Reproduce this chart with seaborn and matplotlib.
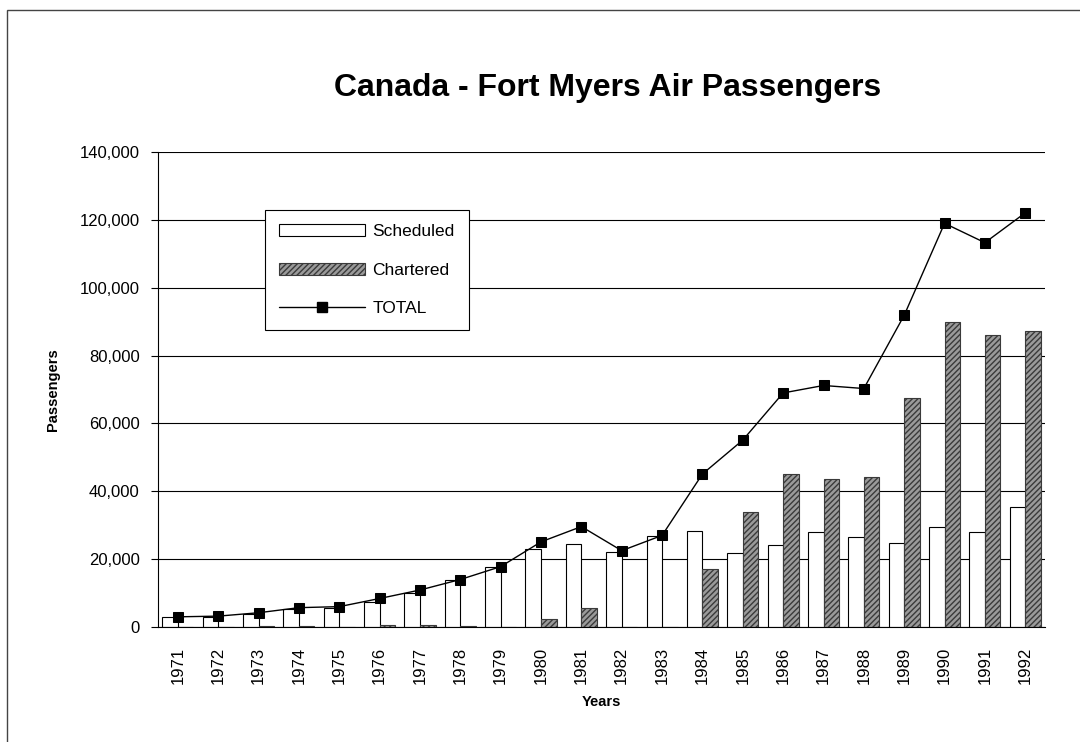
import numpy as np
import pandas as pd
import matplotlib.pyplot as plt
import matplotlib.patches as mpatches
import matplotlib.lines as mlines
from matplotlib.ticker import FuncFormatter
import seaborn as sns

years = [str(y) for y in range(1971, 1993)]
scheduled = [2860, 2860, 3700, 5200, 5700, 7500, 9900, 13800, 17800, 22900, 24400,
             22200, 26800, 28300, 21700, 24200, 27900, 26600, 24800, 29400, 27900, 35300]
chartered = [0, 100, 200, 400, 100, 600, 500, 200, 100, 2270, 5500,
             0, 0, 17200, 33900, 45100, 43600, 44100, 67400, 89900, 86000, 87200]
total = [3000, 3200, 4200, 5700, 6000, 8400, 10900, 14000, 17800, 25100, 29600,
         22500, 27000, 45100, 55100, 69000, 71200, 70300, 91900, 119000, 113300, 122100]

sns.set_style("white")
plt.rcParams['font.family'] = ['Liberation Sans', 'DejaVu Sans']
plt.rcParams['text.color'] = 'black'
plt.rcParams['axes.labelcolor'] = 'black'
plt.rcParams['xtick.color'] = 'black'
plt.rcParams['ytick.color'] = 'black'

df = pd.DataFrame({'year': years * 2,
                   'passengers': scheduled + chartered,
                   'type': ['Scheduled'] * len(years) + ['Chartered'] * len(years)})
tot = pd.DataFrame({'year': years, 'total': total})

fig = plt.figure(figsize=(10.8, 7.42), dpi=100)
ax = fig.add_axes([0.146, 0.155, 0.822, 0.64])

# horizontal gridlines behind the bars
ax.set_axisbelow(True)
ax.yaxis.grid(True, color='black', linewidth=0.8)

pal = {'Scheduled': 'white', 'Chartered': '#9a9a9a'}
sns.barplot(data=df, x='year', y='passengers', hue='type', palette=pal,
            width=0.77, saturation=1, edgecolor='black', linewidth=0.8,
            legend=False, ax=ax)
n = len(years)
for p in ax.patches[n:2 * n]:
    p.set_hatch('//////')
    p.set_edgecolor('#3a3a3a')

sns.pointplot(data=tot, x='year', y='total', color='black', marker='s',
              markersize=7.5, linewidth=1.0, ax=ax)

ax.set_ylim(0, 140000)
ax.set_yticks(np.arange(0, 140001, 20000))
ax.yaxis.set_major_formatter(FuncFormatter(lambda v, p: f'{int(v):,}'))
ax.set_xlim(-0.5, n - 0.5)
ax.set_xticks(np.arange(n))
ax.set_xticklabels(years, rotation=90, fontsize=12)
ax.set_xticks(np.arange(-0.5, n, 1), minor=True)
ax.tick_params(axis='x', which='major', length=0, pad=14)
ax.tick_params(axis='x', which='minor', length=8, direction='inout', width=0.8)
ax.tick_params(axis='y', length=5, direction='out', width=0.8, labelsize=12, pad=8, left=True)

for s in ['top', 'right']:
    ax.spines[s].set_visible(False)
for s in ['left', 'bottom']:
    ax.spines[s].set_color('black')
    ax.spines[s].set_linewidth(0.8)

ax.set_xlabel('Years', fontsize=10.5, fontweight='bold', labelpad=8)
ax.set_ylabel('Passengers', fontsize=10.5, fontweight='bold', labelpad=14)

fig.suptitle('Canada - Fort Myers Air Passengers', fontsize=23, fontweight='bold',
             x=0.563, y=0.881, va='center')

h1 = mpatches.Patch(facecolor='white', edgecolor='black', linewidth=0.8, label='Scheduled')
h2 = mpatches.Patch(facecolor='#9a9a9a', edgecolor='#3a3a3a', hatch='//////', linewidth=0.8, label='Chartered')
h3 = mlines.Line2D([], [], color='black', marker='s', markersize=7.5, linewidth=1.0, label='TOTAL')
leg = ax.legend(handles=[h1, h2, h3], loc='upper left', bbox_to_anchor=(0.1206, 0.878),
                borderaxespad=0, fontsize=12.5, handlelength=5.0, handleheight=0.7,
                labelspacing=1.35, fancybox=False, framealpha=1, edgecolor='black',
                borderpad=0.8, handletextpad=0.4)
leg.get_frame().set_linewidth(0.8)

# chart-area border
fig.add_artist(mpatches.Rectangle((7 / 1080, -0.1), 1.2, 1 - 10 / 742 + 0.1,
                                  transform=fig.transFigure, fill=False,
                                  edgecolor='#444444', linewidth=1.0))

fig.savefig('out.png', dpi=100)
